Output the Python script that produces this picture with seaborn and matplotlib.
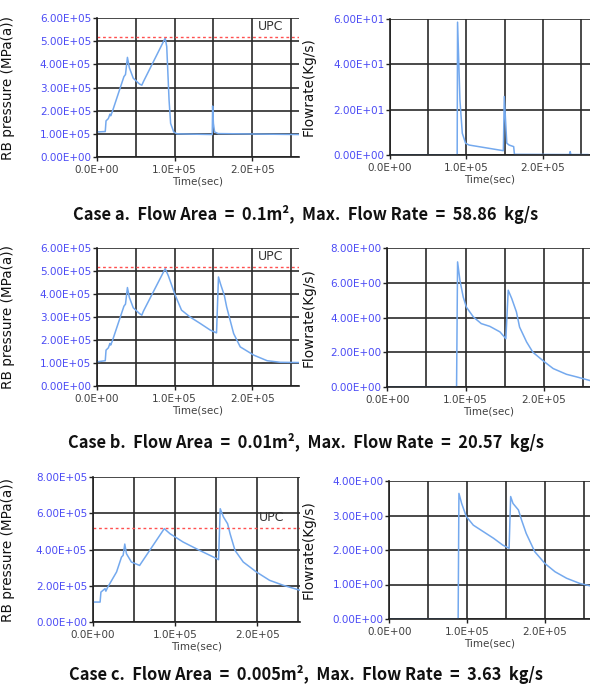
import numpy as np
import pandas as pd
import seaborn as sns
import matplotlib.pyplot as plt
from matplotlib.ticker import FuncFormatter, MultipleLocator

# ---- data (time in s) ----
# case a
a_p_t = [0, 0.11e5, 0.12e5, 0.15e5, 0.17e5, 0.18e5, 0.20e5, 0.35e5, 0.37e5, 0.395e5, 0.42e5,
         0.47e5, 0.55e5, 0.58e5, 0.60e5, 0.88e5, 0.90e5, 0.93e5, 0.95e5, 0.99e5, 1.03e5,
         1.485e5, 1.49e5, 1.50e5, 1.515e5, 1.56e5, 2.6e5]
a_p = [1.08e5, 1.10e5, 1.56e5, 1.66e5, 1.85e5, 1.78e5, 1.95e5, 3.47e5, 3.56e5, 4.30e5, 3.85e5,
       3.40e5, 3.15e5, 3.10e5, 3.25e5, 5.13e5, 4.77e5, 2.46e5, 1.45e5, 1.08e5, 1.00e5,
       0.97e5, 2.20e5, 1.45e5, 1.08e5, 1.01e5, 0.97e5]
a_f_t = [0, 0.88e5, 0.885e5, 0.916e5, 0.947e5, 0.99e5, 1.035e5, 1.485e5, 1.497e5, 1.53e5,
         1.56e5, 1.62e5, 1.63e5, 2.35e5, 2.36e5, 2.37e5, 2.6e5]
a_f = [0, 0, 58.6, 24.3, 9.6, 5.2, 4.4, 1.9, 25.8, 5.2,
       4.4, 3.7, 0.3, 0.2, 1.5, 0.2, 0.2]

# case b
b_p_t = [0, 0.11e5, 0.12e5, 0.15e5, 0.17e5, 0.18e5, 0.20e5, 0.35e5, 0.37e5, 0.395e5, 0.42e5,
         0.47e5, 0.55e5, 0.58e5, 0.60e5, 0.88e5, 0.92e5, 1.01e5, 1.09e5, 1.20e5, 1.33e5,
         1.46e5, 1.54e5, 1.565e5, 1.59e5, 1.64e5, 1.67e5, 1.76e5, 1.845e5, 2.02e5, 2.19e5,
         2.36e5, 2.6e5]
b_p = [1.05e5, 1.10e5, 1.56e5, 1.66e5, 1.85e5, 1.78e5, 1.95e5, 3.47e5, 3.56e5, 4.28e5, 3.85e5,
       3.40e5, 3.15e5, 3.08e5, 3.25e5, 5.10e5, 4.80e5, 3.94e5, 3.30e5, 3.00e5, 2.72e5,
       2.43e5, 2.31e5, 4.74e5, 4.45e5, 3.94e5, 3.44e5, 2.28e5, 1.70e5, 1.34e5, 1.10e5,
       1.03e5, 1.02e5]
b_f_t = [0, 0.885e5, 0.898e5, 0.928e5, 0.97e5, 1.01e5, 1.10e5, 1.20e5, 1.31e5, 1.44e5,
         1.515e5, 1.545e5, 1.59e5, 1.65e5, 1.69e5, 1.78e5, 1.86e5, 2.01e5, 2.12e5, 2.29e5,
         2.42e5, 2.6e5]
b_f = [0, 0, 7.2, 6.14, 5.18, 4.6, 4.03, 3.65, 3.49, 3.17,
       2.78, 5.57, 5.09, 4.32, 3.45, 2.59, 2.0, 1.44, 1.06, 0.73,
       0.58, 0.36]

# case c
c_p_t = [0, 0.09e5, 0.10e5, 0.15e5, 0.16e5, 0.18e5, 0.29e5, 0.35e5, 0.37e5, 0.39e5, 0.41e5,
         0.47e5, 0.57e5, 0.87e5, 0.94e5, 1.10e5, 1.30e5, 1.47e5, 1.53e5, 1.55e5, 1.59e5,
         1.64e5, 1.67e5, 1.73e5, 1.83e5, 1.99e5, 2.15e5, 2.32e5, 2.52e5]
c_p = [1.10e5, 1.10e5, 1.65e5, 1.84e5, 1.70e5, 1.90e5, 2.76e5, 3.58e5, 3.68e5, 4.30e5, 3.77e5,
       3.31e5, 3.12e5, 5.15e5, 4.87e5, 4.41e5, 3.95e5, 3.58e5, 3.44e5, 6.25e5, 5.79e5,
       5.42e5, 4.87e5, 3.95e5, 3.31e5, 2.76e5, 2.30e5, 2.02e5, 1.75e5]
c_f_t = [0, 0.885e5, 0.895e5, 0.93e5, 0.99e5, 1.08e5, 1.21e5, 1.34e5, 1.46e5, 1.54e5,
         1.56e5, 1.59e5, 1.66e5, 1.70e5, 1.76e5, 1.87e5, 2.00e5, 2.13e5, 2.28e5, 2.45e5, 2.6e5]
c_f = [0, 0, 3.64, 3.35, 2.97, 2.72, 2.53, 2.34, 2.14, 2.05,
       3.55, 3.35, 3.16, 2.87, 2.48, 1.95, 1.61, 1.37, 1.18, 1.03, 0.95]

upc = 5.17e5
captions = ["Case a.  Flow Area  =  0.1m²,  Max.  Flow Rate  =  58.86  kg/s",
            "Case b.  Flow Area  =  0.01m²,  Max.  Flow Rate  =  20.57  kg/s",
            "Case c.  Flow Area  =  0.005m²,  Max.  Flow Rate  =  3.63  kg/s"]

W, H = 590, 686
line_c = "#74a9ee"
tick_c = "#4b4bf5"

sns.set_style("white")
plt.rcParams['font.family'] = ['DejaVu Sans']
fig = plt.figure(figsize=(W / 100, H / 100), dpi=100)


def add_ax(l, t, r, b):
    return fig.add_axes([l / W, 1 - b / H, (r - l) / W, (b - t) / H])


def style(ax, xmax, ymax, ystep, yfmt, ylabel, ylab_px):
    ax.set_xlim(0, xmax)
    ax.set_ylim(0, ymax)
    ax.xaxis.set_major_locator(MultipleLocator(1e5))
    ax.xaxis.set_minor_locator(MultipleLocator(0.5e5))
    ax.yaxis.set_major_locator(MultipleLocator(ystep))
    ax.xaxis.set_major_formatter(FuncFormatter(lambda v, p: "%.1E" % v))
    ax.yaxis.set_major_formatter(FuncFormatter(lambda v, p: yfmt % v))
    ax.grid(True, which="both", color="#2a2a2a", lw=1.2)
    for s in ["top", "right"]:
        ax.spines[s].set_visible(False)
    for s in ["left", "bottom"]:
        ax.spines[s].set_color("#202020")
        ax.spines[s].set_linewidth(1.2)
    ax.tick_params(axis="y", which="major", length=3, width=1, color="#202020",
                   labelsize=7.5, labelcolor=tick_c, pad=1, left=True)
    ax.tick_params(axis="x", which="major", length=3, width=1, color="#202020",
                   labelsize=7.5, labelcolor="#404040", pad=3, bottom=True)
    ax.tick_params(axis="x", which="minor", length=0)
    ax.set_xlabel("Time(sec)", fontsize=7.5, color="#404040", labelpad=1)
    ax.set_ylabel(ylabel, fontsize=9.8, color="#111111")
    bbox = ax.get_position()
    ax.yaxis.set_label_coords((ylab_px / W - bbox.x0) / bbox.width, 0.5)
    ax.set_axisbelow(True)


panels = [
    # pressure axes, flow axes, caption y
    ((96.7, 18, 299, 157), 2.6e5, 6e5, 1e5, a_p_t, a_p,
     (390, 19, 590, 155), 2.62e5, 60, 20, a_f_t, a_f, 215),
    ((96.7, 248, 299, 386), 2.6e5, 6e5, 1e5, b_p_t, b_p,
     (387.3, 248, 590, 387), 2.59e5, 8, 2, b_f_t, b_f, 443),
    ((92.7, 477, 300, 622), 2.52e5, 8e5, 2e5, c_p_t, c_p,
     (389.3, 481, 590, 619), 2.58e5, 4, 1, c_f_t, c_f, 675),
]

for i, (pbox, pxm, pym, pst, pt, pv, fbox, fxm, fym, fst, ft, fv, cy) in enumerate(panels):
    ax = add_ax(*pbox)
    sns.lineplot(x=pt, y=pv, ax=ax, color=line_c, lw=1.1)
    ax.axhline(upc, color="#ff5050", lw=1.0, ls=(0, (2, 2)))
    ax.annotate("UPC", xy=(pxm, upc), xytext=(-11, 3), textcoords="offset points",
                ha="right", va="bottom", fontsize=9, color="#333333")
    style(ax, pxm, pym, pst, "%.2E", "RB pressure (MPa(a))", 15)

    ax2 = add_ax(*fbox)
    sns.lineplot(x=ft, y=fv, ax=ax2, color=line_c, lw=1.1)
    style(ax2, fxm, fym, fst, "%.2E", "Flowrate(Kg/s)", 316)

    fig.text(306 / W, 1 - cy / H, captions[i], ha="center", va="center",
             fontsize=11.8, fontweight="bold", color="#111111",
             family=["Noto Sans CJK KR", "DejaVu Sans"])

fig.savefig("out.png", dpi=100)
